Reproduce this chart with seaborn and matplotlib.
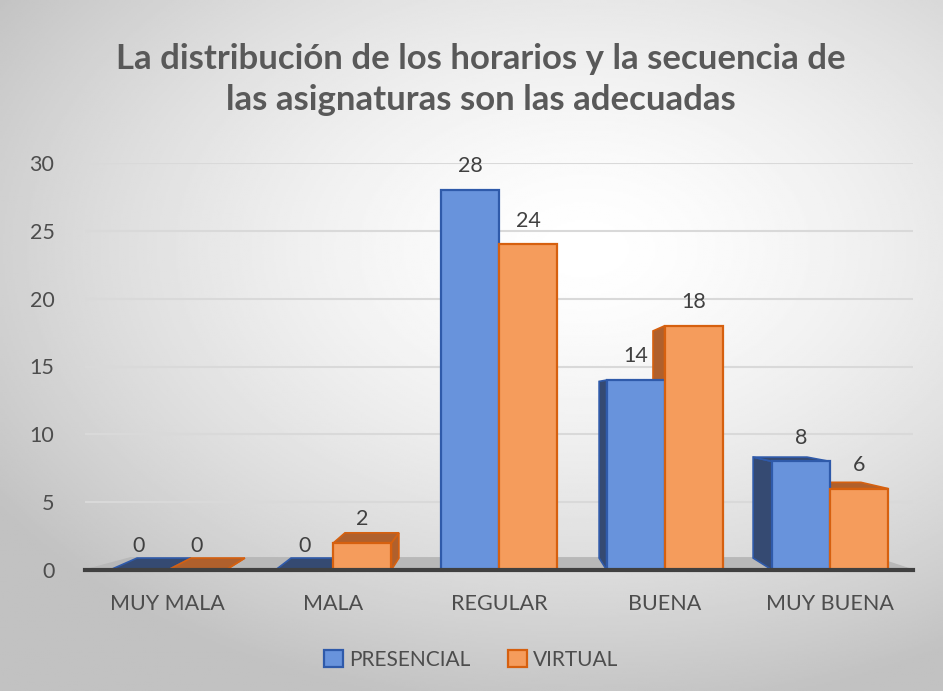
import numpy as np
import pandas as pd
import matplotlib.pyplot as plt
import seaborn as sns
from matplotlib.patches import Polygon, Patch

categorias = ['MUY MALA', 'MALA', 'REGULAR', 'BUENA', 'MUY BUENA']
presencial = [0, 0, 28, 14, 8]
virtual = [0, 2, 24, 18, 6]
series = ['PRESENCIAL', 'VIRTUAL']
titulo = 'La distribución de los horarios y la secuencia de\nlas asignaturas son las adecuadas'

df = pd.DataFrame({
    'categoria': categorias * 2,
    'valor': presencial + virtual,
    'serie': [series[0]] * len(categorias) + [series[1]] * len(categorias),
})

relleno = ['#6893DC', '#F59C5C']
borde = ['#2F5AAA', '#D6600F']
lateral = ['#354A72', '#B0602C']

sns.set_theme(style='white')
plt.rcParams['font.family'] = ['Lato', 'DejaVu Sans']

fig = plt.figure(figsize=(9.43, 6.91), dpi=100)

# fondo con degradado radial
bg = fig.add_axes([0, 0, 1, 1], zorder=-10)
yy, xx = np.mgrid[0:1:350j, 0:1:470j]
r = np.sqrt((xx - 0.62) ** 2 + ((yy - 0.36) / 0.9) ** 2)
bg.imshow(1 - 0.24 * np.clip(r / 0.75, 0, 1) ** 1.5, cmap='gray', vmin=0, vmax=1,
          extent=[0, 1, 0, 1], aspect='auto')
bg.axis('off')

ax = fig.add_axes([85 / 943, 121 / 691, 828 / 943, 407 / 691])
ax.patch.set_alpha(0)
sns.barplot(data=df, x='categoria', y='valor', hue='serie', palette=relleno,
            saturation=1, width=0.7, gap=0, ax=ax, legend=False, zorder=3)

ax.set_xlim(-0.5, 4.5)
ax.set_ylim(0, 30)
ax.set_yticks(range(0, 31, 5))
ax.yaxis.grid(True, color='#D9D9D9', linewidth=1.5)
ax.set_axisbelow(True)
for s in ['top', 'right', 'left']:
    ax.spines[s].set_visible(False)
ax.spines['bottom'].set_color('#404040')
ax.spines['bottom'].set_linewidth(3)
ax.spines['bottom'].set_zorder(5)
ax.tick_params(axis='x', length=0, pad=17, labelsize=15.5, labelcolor='#4D4D4D')
ax.tick_params(axis='y', length=0, pad=22, labelsize=15.5, labelcolor='#4D4D4D')
ax.set_xlabel('')
ax.set_ylabel('')

# piso gris
ax.add_patch(Polygon([(0, 0), (1, 0), (0.955, 0.03), (0.055, 0.03)],
                     transform=ax.transAxes, color='#B8B8B8', zorder=1))

# efecto 3D: caras laterales y superiores hacia un punto de fuga
vx, vy, t = 2.0, 12.6, 0.07


def atras(x, y):
    return (x + (vx - x) * t, y + (vy - y) * t)


for i, cont in enumerate(ax.containers):
    for bar in cont:
        bar.set_edgecolor(borde[i])
        bar.set_linewidth(1.6)
        x0 = bar.get_x()
        x1 = x0 + bar.get_width()
        h = bar.get_height()
        xc = (x0 + x1) / 2
        if xc < vx - 0.01:
            xs = x1
        elif xc > vx + 0.01:
            xs = x0
        else:
            xs = None
        if xs is not None:
            ax.add_patch(Polygon([(xs, 0), (xs, h), atras(xs, h), atras(xs, 0)],
                                 facecolor=lateral[i], edgecolor=borde[i],
                                 linewidth=1.2, zorder=2))
        if h < vy:
            ax.add_patch(Polygon([(x0, h), (x1, h), atras(x1, h), atras(x0, h)],
                                 facecolor=lateral[i], edgecolor=borde[i],
                                 linewidth=1.2, zorder=2))
    ax.bar_label(cont, fontsize=15.5, color='#404040', padding=10)

fig.text(0.51, 0.885, titulo, ha='center', va='center', fontsize=25,
         fontweight='bold', color='#595959', linespacing=1.35)

handles = [Patch(facecolor=relleno[i], edgecolor=borde[i], linewidth=1.6, label=series[i])
           for i in range(len(series))]
fig.legend(handles=handles, loc='center', bbox_to_anchor=(0.5, 31 / 691), ncol=2,
           frameon=False, fontsize=15, handlelength=0.9, handleheight=0.9,
           handletextpad=0.3, columnspacing=1.8, labelcolor='#4D4D4D')

fig.savefig('out.png', dpi=100)
